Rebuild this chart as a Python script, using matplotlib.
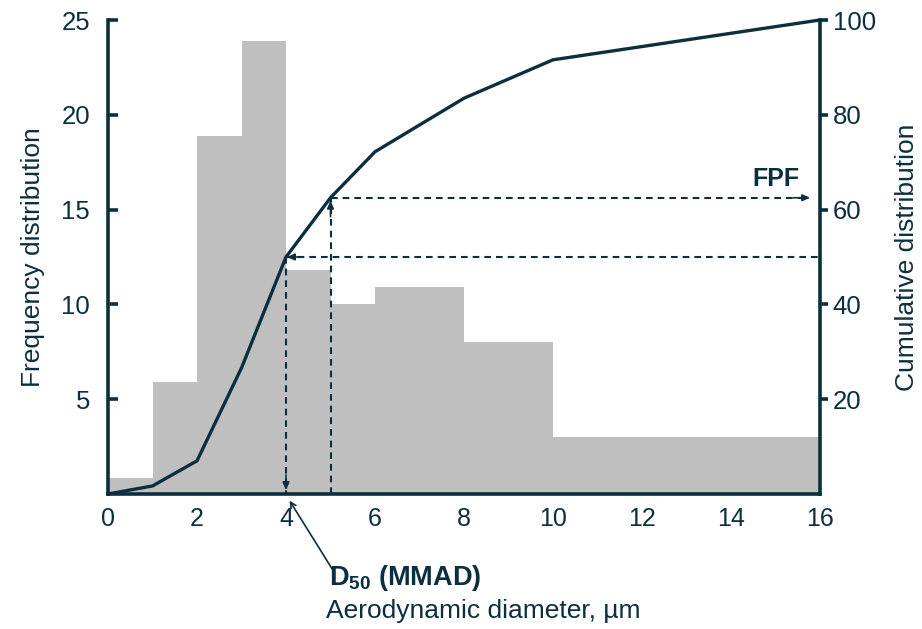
import matplotlib
matplotlib.use("Agg")
import matplotlib.pyplot as plt
import numpy as np

plt.rcParams['font.family'] = ['Liberation Sans', 'DejaVu Sans']
plt.rcParams['mathtext.fontset'] = 'custom'
plt.rcParams['mathtext.rm'] = 'Liberation Sans'
plt.rcParams['mathtext.bf'] = 'Liberation Sans:bold'

# Data
bin_edges = [0, 1, 2, 3, 4, 5, 6, 8, 10, 16]
freq = [0.85, 5.9, 18.9, 23.9, 11.8, 10.0, 10.9, 8.0, 3.0]
cum_x = [0, 1, 2, 3, 4, 5, 6, 8, 10, 16]
cum_y = [0, 1.7, 7.0, 26.6, 50, 62.5, 72.2, 83.5, 91.6, 100]
x_ticks = [0, 2, 4, 6, 8, 10, 12, 14, 16]
left_ticks = [5, 10, 15, 20, 25]
right_ticks = [20, 40, 60, 80, 100]
d50 = 4.0
fpf_x = 5.0
fpf_y = 62.5

NAVY = '#0b2f3e'
GRAY = '#bfbfbf'

fig = plt.figure(figsize=(9.22, 6.29), dpi=100)
ax = fig.add_axes([108/922, 1 - 494/629, (820-108)/922, (494-20)/629])
ax2 = ax.twinx()

left = bin_edges[:-1]
widths = np.diff(bin_edges)
ax.bar(left, freq, width=widths, align='edge', color=GRAY, edgecolor='none', zorder=1)

ax.set_xlim(0, 16)
ax.set_ylim(0, 25)
ax2.set_ylim(0, 100)

ax2.plot(cum_x, cum_y, color=NAVY, lw=2.4, solid_joinstyle='miter', zorder=5, clip_on=False)

# Dashed guide lines
dash = (0, (3.2, 2.4))
lwd = 1.5
ax2.plot([d50, 16], [50, 50], color=NAVY, lw=lwd, linestyle=dash)
ax2.plot([d50, d50], [50, 0], color=NAVY, lw=lwd, linestyle=dash)
ax2.plot([fpf_x, fpf_x], [0, fpf_y], color=NAVY, lw=lwd, linestyle=dash)
ax2.plot([fpf_x, 15.75], [fpf_y, fpf_y], color=NAVY, lw=lwd, linestyle=dash)

def head(tip, frm):
    ax2.annotate('', xy=tip, xytext=frm,
                 arrowprops=dict(arrowstyle='-|>,head_length=0.45,head_width=0.2',
                                 color=NAVY, lw=1.2, shrinkA=0, shrinkB=0))

head((d50 + 0.02, 50), (d50 + 0.35, 50))
head((d50, 0.8), (d50, 4))
head((fpf_x, fpf_y - 0.6), (fpf_x, fpf_y - 4))
head((15.78, fpf_y), (15.4, fpf_y))

ax2.text(15.53, 64.0, 'FPF', color=NAVY, fontsize=18, fontweight='bold',
         ha='right', va='bottom')

# D50 annotation
ax.annotate('', xy=(d50 + 0.08, -0.35), xytext=(5.05, -4.0),
            arrowprops=dict(arrowstyle='->', color=NAVY, lw=1.2, shrinkA=0, shrinkB=0),
            annotation_clip=False)
fig.text(329/922, 1 - 578/629, r'D$_{\mathbf{50}}$ (MMAD)', color=NAVY, fontsize=19.5,
         fontweight='bold', ha='left', va='center')
fig.text(483/922, 1 - 611/629, 'Aerodynamic diameter, µm', color=NAVY, fontsize=19,
         ha='center', va='center')

# Spines and ticks
for a in (ax, ax2):
    a.spines['top'].set_visible(False)
    for s in ('left', 'right', 'bottom'):
        a.spines[s].set_color(NAVY)
        a.spines[s].set_linewidth(2.6)
ax.spines['right'].set_visible(False)
ax2.spines['left'].set_visible(False)
ax2.spines['bottom'].set_visible(False)

ax.set_xticks(x_ticks)
ax.set_xticklabels([str(t) for t in x_ticks])
ax.tick_params(axis='x', length=0, pad=9, labelsize=18, labelcolor=NAVY)
ax.set_yticks(left_ticks)
ax.tick_params(axis='y', direction='in', length=7, width=2.6, color=NAVY,
               labelsize=18.5, labelcolor=NAVY, pad=13)
ax2.set_yticks(right_ticks)
ax2.tick_params(axis='y', direction='out', length=6, width=2.6, color=NAVY,
                labelsize=18.5, labelcolor=NAVY, pad=3)

ax.set_ylabel('Frequency distribution', fontsize=19, color=NAVY, labelpad=12)
ax2.set_ylabel('Cumulative distribution', fontsize=19, color=NAVY, labelpad=14)

ax.set_zorder(ax2.get_zorder() - 1)
ax2.patch.set_visible(False)

fig.savefig('out.png', dpi=100)
